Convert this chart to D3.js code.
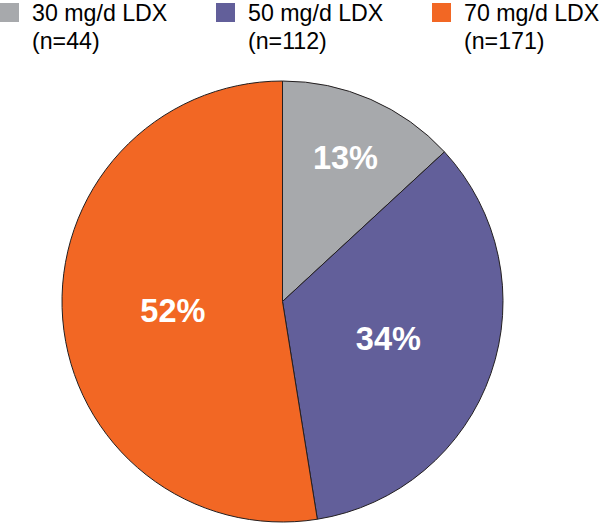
<!DOCTYPE html>
<html><head><meta charset="utf-8">
<script src="https://cdn.jsdelivr.net/npm/d3@7"></script>
<style>html,body{margin:0;padding:0;background:#fff;}svg{display:block;}</style>
</head><body>
<svg id="chart" width="600" height="523"></svg>
<script>
const categories = ["30 mg/d LDX", "50 mg/d LDX", "70 mg/d LDX"];
const countLabels = ["(n=44)", "(n=112)", "(n=171)"];
const percents = [13, 34, 52];
const colors = ["#a7a9ac", "#625f9a", "#f26724"];

const svg = d3.select("#chart");
const cx = 282.5, cy = 301.5, R = 220.5;
const labelRadii = [157, 112, 110];
const font = "Liberation Sans, Arial, Helvetica, sans-serif";

const pie = d3.pie().sort(null).value(d => d)(percents);
const arc = d3.arc().innerRadius(0).outerRadius(R);

const g = svg.append("g").attr("transform", `translate(${cx},${cy})`);
g.selectAll("path").data(pie).join("path")
  .attr("d", arc)
  .attr("fill", (d, i) => colors[i])
  .attr("stroke", "#231f20")
  .attr("stroke-width", 1);

g.selectAll("text.pct").data(pie).join("text")
  .attr("class", "pct")
  .attr("transform", (d, i) => {
    const c = d3.arc().innerRadius(labelRadii[i]).outerRadius(labelRadii[i]).centroid(d);
    return `translate(${c[0]},${c[1]})`;
  })
  .attr("text-anchor", "middle")
  .attr("dy", "0.36em")
  .attr("fill", "#fff")
  .attr("font-family", font)
  .attr("font-weight", "bold")
  .attr("font-size", 32.5)
  .text(d => d.data + "%");

const legendX = d3.scaleBand().domain(d3.range(categories.length)).range([0, 648]);
const lg = svg.append("g").selectAll("g").data(categories).join("g")
  .attr("transform", (d, i) => `translate(${legendX(i)},0)`);
lg.append("rect").attr("x", 0).attr("y", 3).attr("width", 19).attr("height", 19)
  .attr("fill", (d, i) => colors[i]);
lg.append("text").attr("x", 32).attr("y", 20.5)
  .attr("font-family", font)
  .attr("font-size", 23.2).attr("fill", "#000")
  .text(d => d);
lg.append("text").attr("x", 32).attr("y", 48.5)
  .attr("font-family", font)
  .attr("font-size", 23.2).attr("fill", "#000")
  .text((d, i) => countLabels[i]);
</script>
</body></html>
